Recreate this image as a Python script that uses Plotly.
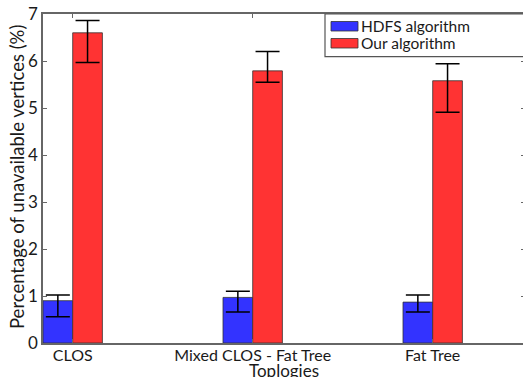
import plotly.graph_objects as go

categories = ["CLOS", "Mixed CLOS - Fat Tree", "Fat Tree"]
cat_pos = [1, 2, 3]
hdfs_vals = [0.90, 0.97, 0.87]
hdfs_err_plus = [0.12, 0.13, 0.15]
hdfs_err_minus = [0.34, 0.31, 0.21]
ours_vals = [6.60, 5.79, 5.58]
ours_err_plus = [0.26, 0.41, 0.36]
ours_err_minus = [0.63, 0.24, 0.67]
series_names = ["HDFS algorithm", "Our algorithm"]
y_ticks = [0, 1, 2, 3, 4, 5, 6, 7]
x_title = "Toplogies"
y_title = "Percentage of unavailable vertices (%)"

BLUE = "#3333FF"
RED = "#FF3333"
FONT = "Lato"
TXT = "#1a1a1a"
BW = 0.165

fig = go.Figure()
fig.add_trace(go.Bar(
    x=cat_pos, y=hdfs_vals, name=series_names[0], width=BW, offset=-BW,
    marker=dict(color=BLUE, line=dict(color="#333333", width=0.8)),
    error_y=dict(type="data", symmetric=False, array=hdfs_err_plus,
                 arrayminus=hdfs_err_minus, color="black", thickness=1.5, width=12),
))
fig.add_trace(go.Bar(
    x=cat_pos, y=ours_vals, name=series_names[1], width=BW, offset=0,
    marker=dict(color=RED, line=dict(color="#333333", width=0.8)),
    error_y=dict(type="data", symmetric=False, array=ours_err_plus,
                 arrayminus=ours_err_minus, color="black", thickness=1.5, width=12),
))

# the original axes box extends slightly past the visible 523 px window
W, H = 525, 377
ml, mr, mt, mb = 43, 0, 14, 34
pw = W - ml - mr
ph = H - mt - mb
x_lo = 0.835
x_hi = x_lo + pw / 180.0

def px_x(x):
    return (x - ml) / pw

def px_y(y):
    return 1 - (y - mt) / ph

shapes = [
    dict(type="rect", xref="paper", yref="paper", x0=px_x(325), x1=px_x(540),
         y0=px_y(56.7), y1=1, line=dict(color="#555555", width=1.2),
         fillcolor="white", layer="above"),
    dict(type="rect", xref="paper", yref="paper", x0=px_x(331), x1=px_x(358),
         y0=px_y(31), y1=px_y(21.5), line=dict(color="#333333", width=0.8),
         fillcolor=BLUE, layer="above"),
    dict(type="rect", xref="paper", yref="paper", x0=px_x(331), x1=px_x(358),
         y0=px_y(48), y1=px_y(38.5), line=dict(color="#333333", width=0.8),
         fillcolor=RED, layer="above"),
]
annotations = [
    dict(text=series_names[0], xref="paper", yref="paper", x=px_x(359), y=px_y(26),
         xanchor="left", yanchor="middle", showarrow=False,
         font=dict(family=FONT, size=15.5, color=TXT)),
    dict(text=series_names[1], xref="paper", yref="paper", x=px_x(359), y=px_y(43),
         xanchor="left", yanchor="middle", showarrow=False,
         font=dict(family=FONT, size=15.5, color=TXT)),
    dict(text=x_title, xref="paper", yref="paper", x=px_x(284), y=px_y(370),
         xanchor="center", yanchor="middle", showarrow=False,
         font=dict(family=FONT, size=17, color=TXT)),
    dict(text=y_title, xref="paper", yref="paper", x=px_x(17), y=px_y(177),
         xanchor="center", yanchor="middle", showarrow=False, textangle=-90,
         font=dict(family=FONT, size=18.5, color=TXT)),
]

fig.update_layout(
    width=W, height=H,
    margin=dict(l=ml, r=mr, t=mt, b=mb, pad=0, autoexpand=False),
    paper_bgcolor="white", plot_bgcolor="white",
    showlegend=False,
    barmode="overlay",
    shapes=shapes, annotations=annotations,
    xaxis=dict(
        range=[x_lo, x_hi], tickvals=cat_pos, ticktext=categories,
        showline=True, linecolor="#666666", linewidth=1.5, mirror="ticks",
        ticks="inside", ticklen=4, tickcolor="#666666", showgrid=False, zeroline=False,
        tickfont=dict(family=FONT, size=16, color=TXT), automargin=False,
        ticklabelstandoff=-3,
    ),
    yaxis=dict(
        range=[0, 7], tickvals=y_ticks,
        showline=True, linecolor="#666666", linewidth=1.5, mirror="ticks",
        ticks="inside", ticklen=4, tickcolor="#666666", showgrid=False, zeroline=False,
        tickfont=dict(family=FONT, size=17, color=TXT), automargin=False,
    ),
)

fig.write_html("out.html", config={"displayModeBar": False},
               post_script="document.body.style.margin='0';document.body.style.overflow='hidden';")
